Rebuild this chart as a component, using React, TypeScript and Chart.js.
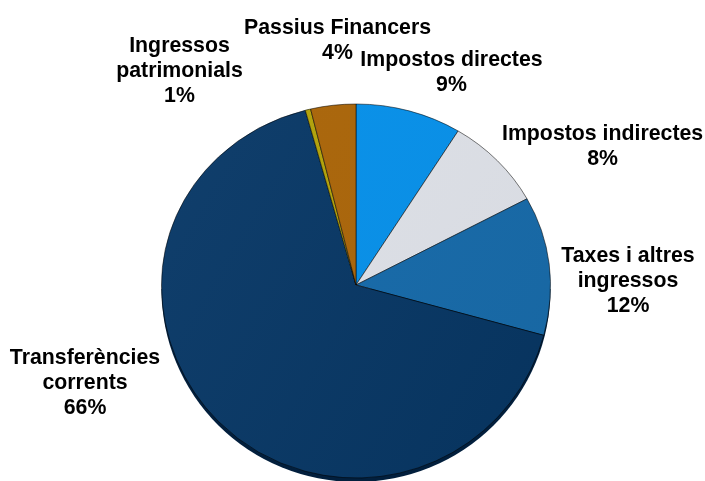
import React, { useEffect, useRef } from "react";
import { Chart, registerables } from "chart.js";

Chart.register(...registerables);

const categories = ["Impostos directes", "Impostos indirectes", "Taxes i altres ingressos", "Transferències corrents", "Ingressos patrimonials", "Passius Financers"];
const shares = [8.8, 8.3, 12.1, 66.6, 0.45, 3.75];
const percentLabels = ["9%", "8%", "12%", "66%", "1%", "4%"];
const labelLines = [
  ["Impostos directes"],
  ["Impostos indirectes"],
  ["Taxes i altres", "ingressos"],
  ["Transferències", "corrents"],
  ["Ingressos", "patrimonials"],
  ["Passius Financers"],
];
const lightShades = ["#0b94ec", "#dfe2e8", "#1b6fb0", "#134270", "#b8a80f", "#ad6a0e"];
const darkShades = ["#0a8be0", "#d6d9e0", "#17659f", "#04305a", "#a89a0c", "#a5620c"];
const labelAnchors = [
  [451.5, 60],
  [602.6, 134.5],
  [628, 256],
  [85, 358],
  [179.5, 46.5],
  [337.5, 28.5],
];

const TOP_RY = 181;
const BOTTOM_RY = 193;
const DEPTH = 4;

const piePerspective = {
  id: "piePerspective",
  beforeDatasetDraw(chart: any, args: any) {
    const ctx = chart.ctx;
    const arc = args.meta.data[0];
    const { x: cx, y: cy, outerRadius: r } = arc;
    const w = chart.width;
    const h = chart.height;

    ctx.save();
    ctx.fillStyle = "#021f3d";
    ctx.beginPath();
    ctx.ellipse(cx, cy + DEPTH, r, BOTTOM_RY, 0, 0, Math.PI);
    ctx.fill();
    ctx.restore();

    const bands = [
      { y: 0, height: cy, ry: TOP_RY },
      { y: cy, height: h - cy, ry: BOTTOM_RY },
    ];
    for (const band of bands) {
      ctx.save();
      ctx.beginPath();
      ctx.rect(0, band.y, w, band.height);
      ctx.clip();
      ctx.translate(0, cy);
      ctx.scale(1, band.ry / r);
      ctx.translate(0, -cy);
      args.meta.controller.draw();
      ctx.restore();
    }
    return false;
  },
  afterDraw(chart: any) {
    const ctx = chart.ctx;
    ctx.save();
    ctx.font = 'bold 21.3px "Liberation Sans", Arial, sans-serif';
    ctx.fillStyle = "#000000";
    ctx.textAlign = "center";
    ctx.textBaseline = "middle";
    labelLines.forEach((lines, i) => {
      const [x, y] = labelAnchors[i];
      [...lines, percentLabels[i]].forEach((t, j) => ctx.fillText(t, x, y + j * 25));
    });
    ctx.restore();
  },
};

export default function App() {
  const ref = useRef<HTMLCanvasElement>(null);
  useEffect(() => {
    const chart = new Chart(ref.current!, {
      type: "pie",
      data: {
        labels: categories,
        datasets: [
          {
            data: shares,
            backgroundColor: (c: any) => {
              const area = c.chart.chartArea;
              if (!area) return lightShades[c.dataIndex];
              const g = c.chart.ctx.createLinearGradient(area.left, area.top, area.right, area.bottom);
              g.addColorStop(0, lightShades[c.dataIndex]);
              g.addColorStop(1, darkShades[c.dataIndex]);
              return g;
            },
            borderColor: "rgba(0,0,0,0.55)",
            borderWidth: 1,
          },
        ],
      },
      options: {
        responsive: false,
        animation: false,
        layout: { padding: { top: 90, bottom: 1, left: 7, right: 0 } },
        plugins: { legend: { display: false }, tooltip: { enabled: false } },
      },
      plugins: [piePerspective],
    });
    return () => chart.destroy();
  }, []);
  return (
    <div style={{ position: "absolute", left: 0, top: 0, width: 705, height: 481, background: "#fff" }}>
      <canvas ref={ref} width={705} height={481} style={{ display: "block" }} />
    </div>
  );
}
